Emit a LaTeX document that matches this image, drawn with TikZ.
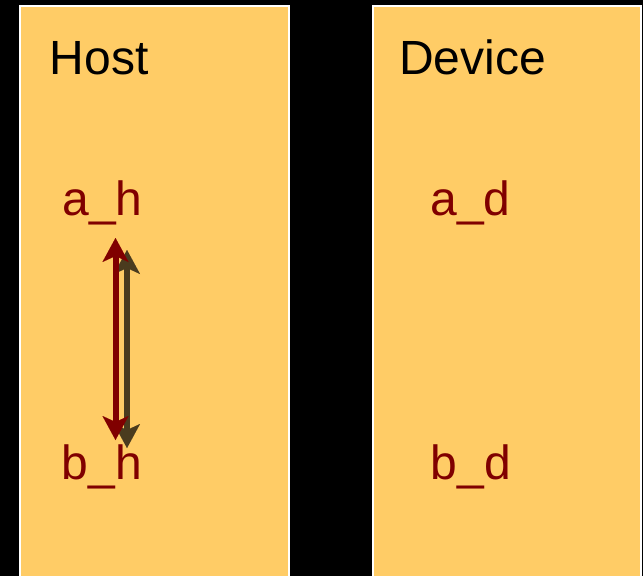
\documentclass[tikz,border=0pt]{standalone}
\usepackage{fontspec}
\setmainfont{Liberation Sans}
\usetikzlibrary{arrows.meta}
\definecolor{boxfill}{HTML}{FFCC66}
\definecolor{maroontxt}{HTML}{800000}
\definecolor{darkarr}{HTML}{4A3B1E}
\tikzset{
  panel/.style={fill=boxfill, draw=white, line width=2pt},
  title/.style={anchor=base west, inner sep=0pt, font=\fontsize{48}{48}\selectfont, text=black},
  var/.style={anchor=base west, inner sep=0pt, font=\fontsize{48}{48}\selectfont, text=maroontxt},
  arr/.style={line width=6pt, {Stealth[length=24pt,width=26pt,inset=6pt,line width=0.01pt]}-{Stealth[length=24pt,width=26pt,inset=6pt,line width=0.01pt]}}
}
\begin{document}
\begin{tikzpicture}[x=1pt,y=-1pt]
\useasboundingbox (0,0) rectangle (643,576);
\fill[black] (0,0) rectangle (643,576);
\begin{scope}
\clip (0,0) rectangle (643,576);
\draw[panel] (20,6) rectangle (289,590);
\draw[panel] (373,6) rectangle (641,590);
\end{scope}
\node[title] (host) at (49.5,74.5) {Host};
\node[title] (device) at (399,74.5) {Device};
\node[var] (ah) at (62.3,215) {a\_h};
\node[var] (bh) at (61.6,479) {b\_h};
\node[var] (ad) at (430.3,215) {a\_d};
\node[var] (bd) at (430.6,479) {b\_d};
\coordinate (dtop) at (127,250);
\coordinate (dbot) at (127,448);
\coordinate (rtop) at (115.5,238);
\coordinate (rbot) at (115.5,440);
\draw[arr, darkarr] (dtop) -- (dbot);
\draw[arr, maroontxt] (rtop) -- (rbot);
\end{tikzpicture}
\end{document}
